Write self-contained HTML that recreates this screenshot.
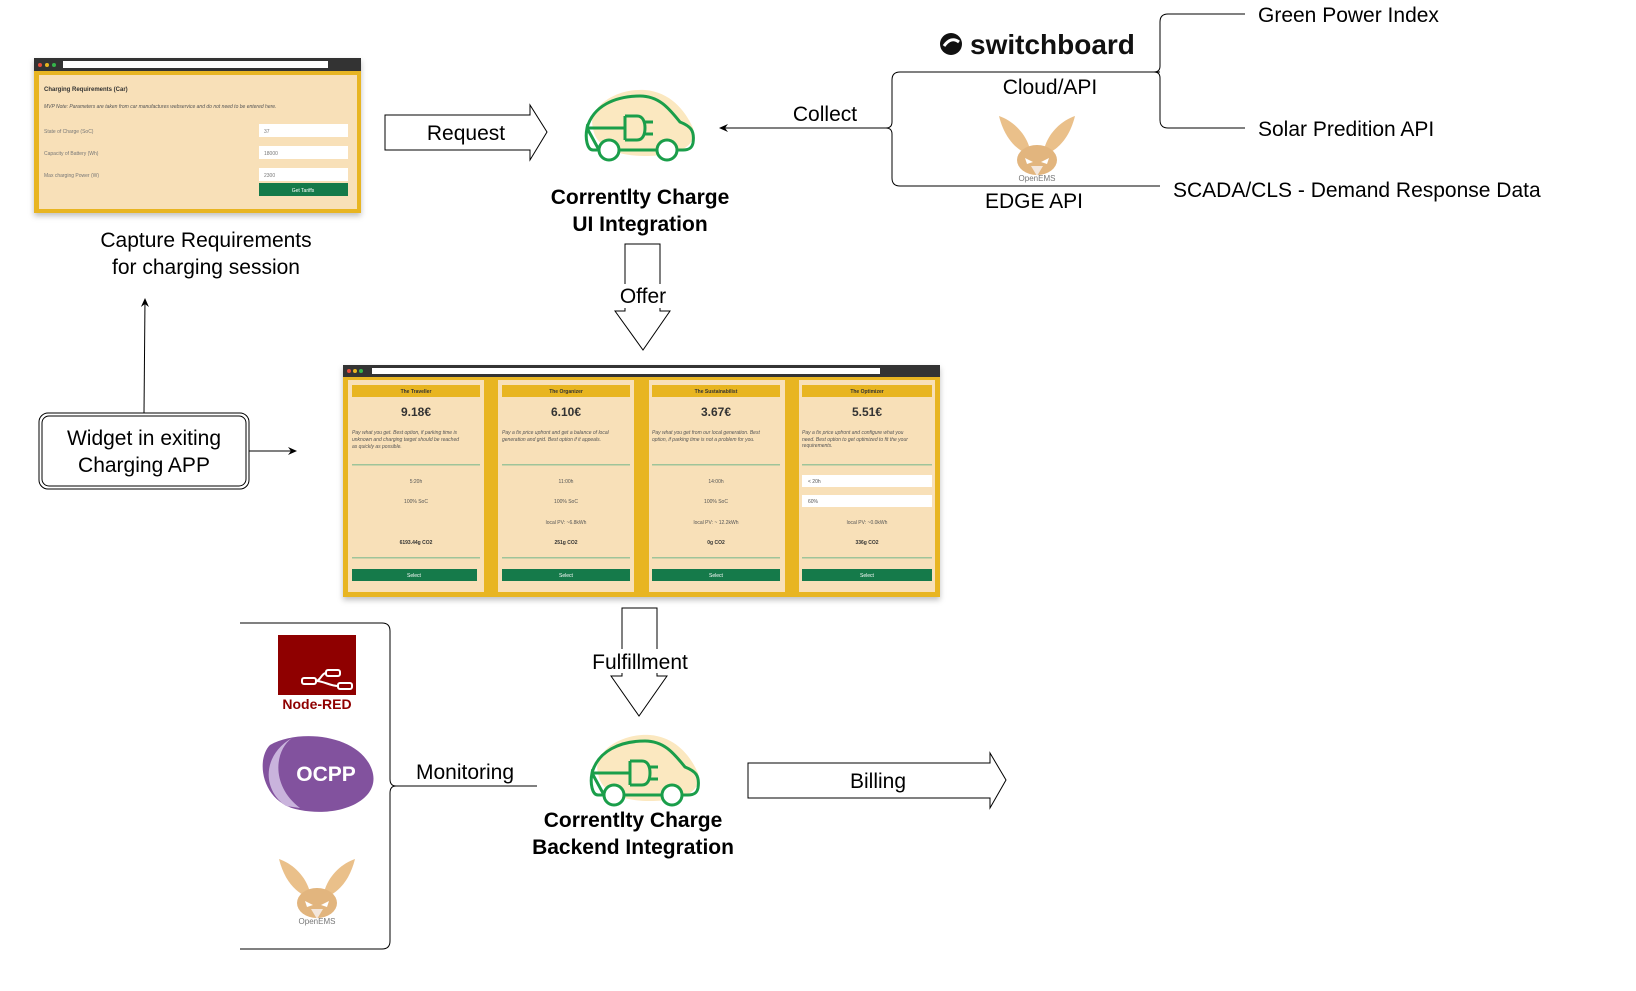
<!DOCTYPE html>
<html><head><meta charset="utf-8"><style>
html,body{margin:0;padding:0;background:#fff}
svg{display:block}
text{font-family:"Liberation Sans",sans-serif}
</style></head><body>
<svg width="1636" height="991" viewBox="0 0 1636 991" xmlns="http://www.w3.org/2000/svg">
<defs>
<marker id="ah" markerWidth="10" markerHeight="10" refX="8" refY="4" orient="auto" markerUnits="userSpaceOnUse"><path d="M0,0 L9,4 L0,8 L3,4 z" fill="#000"/></marker>
<filter id="sh" x="-5%" y="-5%" width="110%" height="115%"><feDropShadow dx="0" dy="3" stdDeviation="3" flood-color="#000" flood-opacity="0.25"/></filter>
<g id="car">
<path d="M8 40 C 2 20, 30 0, 60 2 C 85 4, 100 22, 108 40 C 112 55, 100 68, 60 68 C 30 68, 10 58, 8 40 z" fill="#fbe8c0"/>
<path d="M2 40 C 8 18, 30 8, 55 8 C 75 8, 85 22, 95 34 C 105 38, 110 42, 108 55 C 107 60, 104 62, 98 62 L 92 62 M 34 62 L 72 62 M 14 62 L 8 62 C 2 62, 0 50, 2 40 z" fill="none" stroke="#1a9e4a" stroke-width="3"/>
<circle cx="24" cy="62" r="10" fill="#fff" stroke="#1a9e4a" stroke-width="3"/>
<circle cx="82" cy="62" r="10" fill="#fff" stroke="#1a9e4a" stroke-width="3"/>
<path d="M2 40 L40 40 M40 28 L40 52 M40 28 L52 28 C58 28, 60 34, 60 40 C 60 46, 58 52, 52 52 L40 52 M60 34 L68 34 M60 46 L68 46" fill="none" stroke="#1a9e4a" stroke-width="3"/>
</g>
<g id="fox">
<path d="M0 0 C 5 20, 15 32, 28 38 L 30 30 C 25 15, 12 4, 0 0 z" fill="#eac08a"/>
<path d="M76 0 C 71 20, 61 32, 48 38 L 46 30 C 51 15, 64 4, 76 0 z" fill="#eac08a"/>
<ellipse cx="38" cy="44" rx="20" ry="15" fill="#e2b57e"/>
<path d="M26 42 L34 46 L28 48 z M50 42 L42 46 L48 48 z" fill="#fff"/>
<path d="M32 50 L38 60 L44 50 z" fill="#f4e7dc"/>
</g>
</defs>

<g filter="url(#sh)">
<rect x="34" y="58" width="327" height="155" fill="#e8b520"/>
</g>
<rect x="34" y="58" width="327" height="13" fill="#333"/>
<circle cx="40" cy="65" r="2" fill="#e84a3a"/><circle cx="47" cy="65" r="2" fill="#e8b520"/><circle cx="54" cy="65" r="2" fill="#35b54a"/>
<rect x="63" y="61" width="265" height="7" fill="#fff"/>
<rect x="39" y="75" width="318" height="134" fill="#f8e0b8"/>
<text x="44" y="91" font-size="6" font-weight="bold" fill="#333">Charging Requirements (Car)</text>
<text x="44" y="108" font-size="5" font-style="italic" fill="#555">MVP Note: Parameters are taken from car manufactures webservice and do not need to be entered here.</text>
<text x="44" y="133" font-size="5" fill="#777">State of Charge (SoC)</text>
<text x="44" y="155" font-size="5" fill="#777">Capacity of Battery (Wh)</text>
<text x="44" y="177" font-size="5" fill="#777">Max charging Power (W)</text>
<rect x="259" y="124" width="89" height="13" fill="#fff"/><text x="264" y="133" font-size="5" fill="#777">37</text>
<rect x="259" y="146" width="89" height="13" fill="#fff"/><text x="264" y="155" font-size="5" fill="#777">18000</text>
<rect x="259" y="168" width="89" height="13" fill="#fff"/><text x="264" y="177" font-size="5" fill="#777">2300</text>
<rect x="259" y="183" width="89" height="13" fill="#157a4a"/><text x="303" y="192" font-size="5" fill="#fff" text-anchor="middle">Get Tariffs</text>
<text x="206" y="247" font-size="21" text-anchor="middle">Capture Requirements</text>
<text x="206" y="274" font-size="21" text-anchor="middle">for charging session</text>

<path d="M385 115 L530 115 L530 105 L547 132 L530 160 L530 150 L385 150 z" fill="#fff" stroke="#000" stroke-width="1"/>
<text x="466" y="140" font-size="21" text-anchor="middle">Request</text>

<use href="#car" x="585" y="88"/>
<text x="640" y="204" font-size="21" font-weight="bold" text-anchor="middle">Correntlty Charge</text>
<text x="640" y="231" font-size="21" font-weight="bold" text-anchor="middle">UI Integration</text>

<line x1="888" y1="128" x2="720" y2="128" stroke="#000" stroke-width="1" marker-end="url(#ah)"/>
<text x="825" y="121" font-size="21" text-anchor="middle">Collect</text>
<path d="M1160 72 L900 72 Q892 72 892 80 L892 122 Q892 128 886 128 Q892 128 892 134 L892 178 Q892 186 900 186 L1160 186" fill="none" stroke="#000" stroke-width="1"/>
<path d="M1245 14 L1168 14 Q1160 14 1160 22 L1160 66 Q1160 72 1154 72 Q1160 72 1160 78 L1160 120 Q1160 128 1168 128 L1245 128" fill="none" stroke="#000" stroke-width="1"/>
<circle cx="951" cy="44" r="11" fill="#111"/>
<path d="M944 46 Q951 36 959 42" stroke="#fff" stroke-width="3" fill="none"/>
<text x="970" y="54" font-size="28" font-weight="bold" fill="#111">switchboard</text>
<text x="1050" y="94" font-size="21" text-anchor="middle">Cloud/API</text>
<use href="#fox" x="999" y="116"/>
<text x="1037" y="181" font-size="8" fill="#777" text-anchor="middle">OpenEMS</text>
<text x="1034" y="208" font-size="21" text-anchor="middle">EDGE  API</text>
<text x="1258" y="22" font-size="21">Green Power Index</text>
<text x="1258" y="136" font-size="21">Solar Predition API</text>
<text x="1173" y="197" font-size="21">SCADA/CLS - Demand Response Data</text>

<path d="M625 244 L660 244 L660 311 L670 311 L643 350 L615 311 L625 311 z" fill="#fff" stroke="#000" stroke-width="1"/>
<rect x="617" y="284" width="52" height="24" fill="#fff"/>
<text x="643" y="303" font-size="21" text-anchor="middle">Offer</text>

<g filter="url(#sh)"><rect x="343" y="365" width="597" height="232" fill="#e8b520"/></g>
<rect x="343" y="365" width="597" height="12" fill="#333"/>
<circle cx="349" cy="371" r="2" fill="#e84a3a"/><circle cx="355" cy="371" r="2" fill="#e8b520"/><circle cx="361" cy="371" r="2" fill="#35b54a"/>
<rect x="372" y="368" width="508" height="6" fill="#fff"/>

<g font-size="5" fill="#555" text-anchor="middle">
<rect x="348" y="380" width="136" height="212" fill="#f8e0b8"/>
<rect x="352" y="385" width="128" height="12" fill="#e8b520"/>
<text x="416" y="393" font-weight="bold" fill="#333">The Traveller</text>
<text x="416" y="416" font-size="12" font-weight="bold" fill="#333">9.18€</text>
<text x="352" y="434" text-anchor="start" font-style="italic">Pay what you get. Best option, if parking time is</text>
<text x="352" y="441" text-anchor="start" font-style="italic">unknown and charging target should be reached</text>
<text x="352" y="448" text-anchor="start" font-style="italic">as quickly as possible.</text>
<rect x="352" y="464" width="128" height="1.5" fill="#9fc49a"/>
<text x="416" y="483">5:20h</text><text x="416" y="503">100% SoC</text>
<text x="416" y="544" font-weight="bold" fill="#333">6193.44g CO2</text>
<rect x="352" y="557" width="128" height="1.5" fill="#9fc49a"/>
<rect x="352" y="569" width="125" height="12" fill="#157a4a"/><text x="414" y="577" fill="#fff">Select</text>
<rect x="498" y="380" width="136" height="212" fill="#f8e0b8"/>
<rect x="502" y="385" width="128" height="12" fill="#e8b520"/>
<text x="566" y="393" font-weight="bold" fill="#333">The Organizer</text>
<text x="566" y="416" font-size="12" font-weight="bold" fill="#333">6.10€</text>
<text x="502" y="434" text-anchor="start" font-style="italic">Pay a fix price upfront and get a balance of local</text>
<text x="502" y="441" text-anchor="start" font-style="italic">generation and grid. Best option if it appeals.</text>
<rect x="502" y="464" width="128" height="1.5" fill="#9fc49a"/>
<text x="566" y="483">11:00h</text><text x="566" y="503">100% SoC</text><text x="566" y="524">local PV: ~6.8kWh</text>
<text x="566" y="544" font-weight="bold" fill="#333">251g CO2</text>
<rect x="502" y="557" width="128" height="1.5" fill="#9fc49a"/>
<rect x="502" y="569" width="128" height="12" fill="#157a4a"/><text x="566" y="577" fill="#fff">Select</text>
<rect x="649" y="380" width="136" height="212" fill="#f8e0b8"/>
<rect x="652" y="385" width="128" height="12" fill="#e8b520"/>
<text x="716" y="393" font-weight="bold" fill="#333">The Sustainabilist</text>
<text x="716" y="416" font-size="12" font-weight="bold" fill="#333">3.67€</text>
<text x="652" y="434" text-anchor="start" font-style="italic">Pay what you get from our local generation. Best</text>
<text x="652" y="441" text-anchor="start" font-style="italic">option, if parking time is not a problem for you.</text>
<rect x="652" y="464" width="128" height="1.5" fill="#9fc49a"/>
<text x="716" y="483">14:00h</text><text x="716" y="503">100% SoC</text><text x="716" y="524">local PV: ~ 12.2kWh</text>
<text x="716" y="544" font-weight="bold" fill="#333">0g CO2</text>
<rect x="652" y="557" width="128" height="1.5" fill="#9fc49a"/>
<rect x="652" y="569" width="128" height="12" fill="#157a4a"/><text x="716" y="577" fill="#fff">Select</text>
<rect x="799" y="380" width="136" height="212" fill="#f8e0b8"/>
<rect x="802" y="385" width="130" height="12" fill="#e8b520"/>
<text x="867" y="393" font-weight="bold" fill="#333">The Optimizer</text>
<text x="867" y="416" font-size="12" font-weight="bold" fill="#333">5.51€</text>
<text x="802" y="434" text-anchor="start" font-style="italic">Pay a fix price upfront and configure what you</text>
<text x="802" y="441" text-anchor="start" font-style="italic">need. Best option to get optimized to fit the your</text>
<text x="802" y="447" text-anchor="start" font-style="italic">requirements.</text>
<rect x="802" y="464" width="130" height="1.5" fill="#9fc49a"/>
<rect x="802" y="475" width="130" height="12" fill="#fff"/><text x="808" y="483" text-anchor="start">&lt; 20h</text>
<rect x="802" y="495" width="130" height="12" fill="#fff"/><text x="808" y="503" text-anchor="start">60%</text>
<text x="867" y="524">local PV: ~0.0kWh</text>
<text x="867" y="544" font-weight="bold" fill="#333">336g CO2</text>
<rect x="802" y="557" width="130" height="1.5" fill="#9fc49a"/>
<rect x="802" y="569" width="130" height="12" fill="#157a4a"/><text x="867" y="577" fill="#fff">Select</text>
</g>

<rect x="39" y="413" width="210" height="76" rx="9" fill="#fff" stroke="#000" stroke-width="1"/>
<rect x="42" y="416" width="204" height="70" rx="7" fill="none" stroke="#000" stroke-width="1"/>
<text x="144" y="445" font-size="21" text-anchor="middle">Widget in exiting</text>
<text x="144" y="472" font-size="21" text-anchor="middle">Charging APP</text>
<line x1="144" y1="413" x2="145" y2="299" stroke="#000" stroke-width="1" marker-end="url(#ah)"/>
<line x1="249" y1="451" x2="296" y2="451" stroke="#000" stroke-width="1" marker-end="url(#ah)"/>

<path d="M622 608 L657 608 L657 676 L667 676 L639 716 L611 676 L622 676 z" fill="#fff" stroke="#000" stroke-width="1"/>
<rect x="588" y="649" width="104" height="24" fill="#fff"/>
<text x="640" y="669" font-size="21" text-anchor="middle">Fulfillment</text>

<use href="#car" x="590" y="733"/>
<text x="633" y="827" font-size="21" font-weight="bold" text-anchor="middle">Correntlty Charge</text>
<text x="633" y="854" font-size="21" font-weight="bold" text-anchor="middle">Backend Integration</text>

<path d="M748 763 L990 763 L990 753 L1006 780 L990 808 L990 798 L748 798 z" fill="#fff" stroke="#000" stroke-width="1"/>
<text x="878" y="788" font-size="21" text-anchor="middle">Billing</text>

<path d="M240 623 L382 623 Q390 623 390 631 L390 779 Q390 786 396 786 Q390 786 390 793 L390 941 Q390 949 382 949 L240 949" fill="none" stroke="#000" stroke-width="1"/>
<line x1="396" y1="786" x2="537" y2="786" stroke="#000" stroke-width="1"/>
<text x="465" y="779" font-size="21" text-anchor="middle">Monitoring</text>

<rect x="278" y="635" width="78" height="60" fill="#8f0000"/>
<g fill="none" stroke="#fff" stroke-width="2">
<rect x="302" y="678" width="14" height="6" rx="2"/><rect x="326" y="670" width="14" height="6" rx="2"/><rect x="338" y="683" width="14" height="6" rx="2"/>
<path d="M316 681 C 320 681, 322 673, 326 673 M316 681 C 324 681, 330 686, 338 686"/>
</g>
<text x="317" y="709" font-size="14" font-weight="bold" fill="#8f0000" text-anchor="middle" font-family="Liberation Serif,serif">Node-RED</text>
<path d="M270 745 C 300 728, 360 735, 372 770 C 382 800, 340 818, 300 810 C 262 804, 255 760, 270 745 z" fill="#82529e"/>
<path d="M292 738 C 275 750, 270 785, 300 808 L 286 806 C 262 790, 262 755, 292 738 z" fill="#c9b3dc"/>
<text x="326" y="781" font-size="21" font-weight="bold" fill="#fff" text-anchor="middle">OCPP</text>
<use href="#fox" x="279" y="859"/>
<text x="317" y="924" font-size="8" fill="#777" text-anchor="middle">OpenEMS</text>
</svg>
</body></html>
